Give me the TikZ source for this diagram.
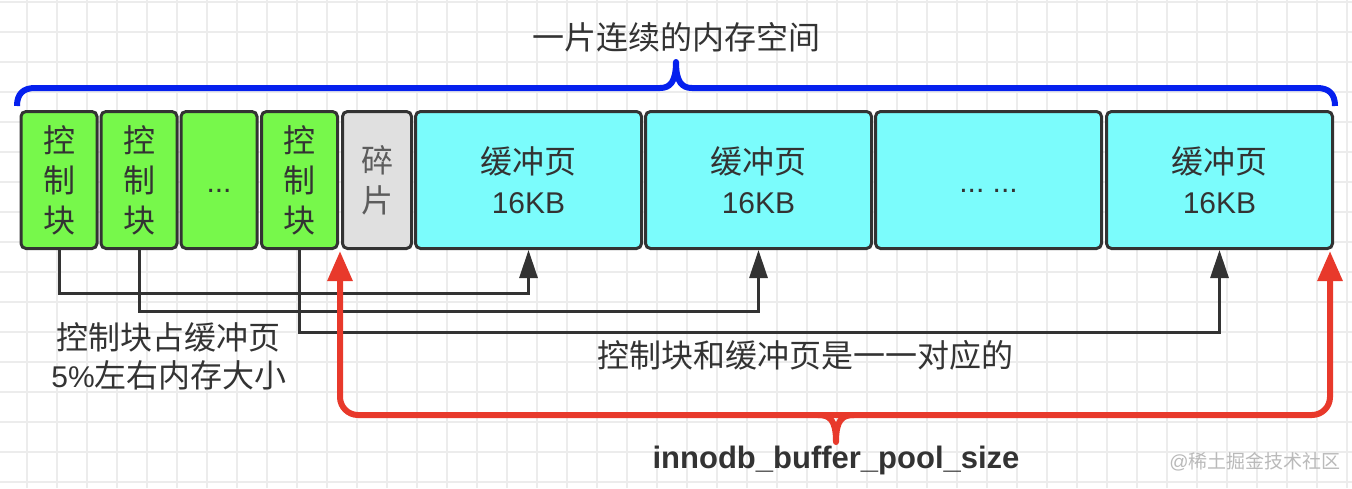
\documentclass[tikz,border=0pt]{standalone}
\usepackage{fontspec}
\setmainfont{Liberation Sans}
\newfontfamily\cjk{Noto Sans CJK SC}
\newcommand{\zh}[1]{{\cjk\fontsize{32pt}{40pt}\selectfont #1}}
\usetikzlibrary{arrows.meta}
\definecolor{gridc}{HTML}{ECECEC}
\definecolor{ink}{HTML}{333333}
\definecolor{greenf}{HTML}{77F84B}
\definecolor{cyanf}{HTML}{7BFCFC}
\definecolor{grayf}{HTML}{E0E0E0}
\definecolor{braceblue}{HTML}{0520EE}
\definecolor{bracered}{HTML}{E8392B}
\begin{document}
\begin{tikzpicture}[x=1pt,y=-1pt,
  gridl/.style={draw=gridc, line width=1.5pt},
  box/.style={draw=ink, line width=3pt, rounded corners=5pt, minimum height=137pt,
    inner sep=0pt, text=ink, align=center, font=\fontsize{30pt}{40pt}\selectfont},
  gbox/.style={box, fill=greenf, minimum width=76pt},
  fbox/.style={box, fill=grayf, minimum width=69pt, text=ink!80},
  cbox/.style={box, fill=cyanf, minimum width=226pt},
  txt/.style={text=ink, inner sep=0pt, align=center, font=\fontsize{30pt}{38pt}\selectfont},
  conn/.style={draw=ink, line width=3pt, -{Triangle[length=28pt,width=18pt]}},
  redconn/.style={draw=bracered, line width=6pt, rounded corners=18pt,
    {Triangle[length=30pt,width=24pt]}-{Triangle[length=30pt,width=24pt]}},
  bluebrace/.style={draw=braceblue, line width=6pt, line join=round},
  redbrace/.style={draw=bracered, line width=6pt, line join=round}]
\useasboundingbox (0,0) rectangle (1352,488);
\fill[white] (0,0) rectangle (1352,488);
% grid
\foreach \gx in {27,57,...,1347} \draw[gridl] (\gx,0) -- (\gx,488);
\foreach \gy in {2,32,...,482} \draw[gridl] (0,\gy) -- (1352,\gy);

% title and blue brace
\node[txt] (title) at (676,37) {\zh{一片连续的内存空间}};
\draw[bluebrace] (17,106) .. controls (17,94) and (23,88) .. (35,88) -- (660,88)
  .. controls (670,88) and (676,82) .. (676,62)
  .. controls (676,82) and (682,88) .. (692,88) -- (1317,88)
  .. controls (1329,88) and (1335,94) .. (1335,106);

% boxes
\node[gbox] (g1) at (59,180) {\zh{控}\\\zh{制}\\\zh{块}};
\node[gbox] (g2) at (139,180) {\zh{控}\\\zh{制}\\\zh{块}};
\node[gbox] (g3) at (219,180) {};
\node[gbox] (g4) at (299.5,180) {\zh{控}\\\zh{制}\\\zh{块}};
\node[fbox] (frag) at (377,180) {\zh{碎}\\\zh{片}};
\node[cbox] (c1) at (528.5,180) {\zh{缓冲页}\\16KB};
\node[cbox] (c2) at (758.5,180) {\zh{缓冲页}\\16KB};
\node[cbox] (c3) at (988.5,180) {};
\node[cbox] (c4) at (1219.5,180) {\zh{缓冲页}\\16KB};
\node[txt] (g3dots) at (219,191) {...};
\node[txt] (c3dots) at (988.5,191) {...\ ...};

% control block -> buffer page connectors
\coordinate (h1) at (0,293);
\coordinate (h2) at (0,311);
\coordinate (h3) at (0,332);
\draw[conn] (g1.south) |- (c1.south |- h1) -- (c1.south);
\draw[conn] (g2.south) |- (c2.south |- h2) -- (c2.south);
\draw[conn] (g4.south) |- (c4.south |- h3) -- (c4.south);

% notes
\node[txt] (note1) at (169,356) {\zh{控制块占缓冲页}\\5\%\zh{左右内存大小}};
\node[txt] (note2) at (805,355) {\zh{控制块和缓冲页是一一对应的}};

% red brace
\coordinate (rl) at (340,251);
\coordinate (rr) at (1330,251);
\draw[redconn] (rl) -- (340,415) -- (1330,415) -- (rr);
\draw[redbrace] (818,415) .. controls (830,415) and (836,420) .. (836,442)
  .. controls (836,420) and (842,415) .. (854,415);
\node[txt, font=\bfseries\fontsize{31pt}{36pt}\selectfont] (poolsize) at (836,460) {innodb\_buffer\_pool\_size};

% watermark
\node[inner sep=0pt, text=black!27, font=\fontsize{19pt}{22pt}\selectfont] (wm) at (1255,462) {@{\cjk 稀土掘金技术社区}};
\end{tikzpicture}
\end{document}
